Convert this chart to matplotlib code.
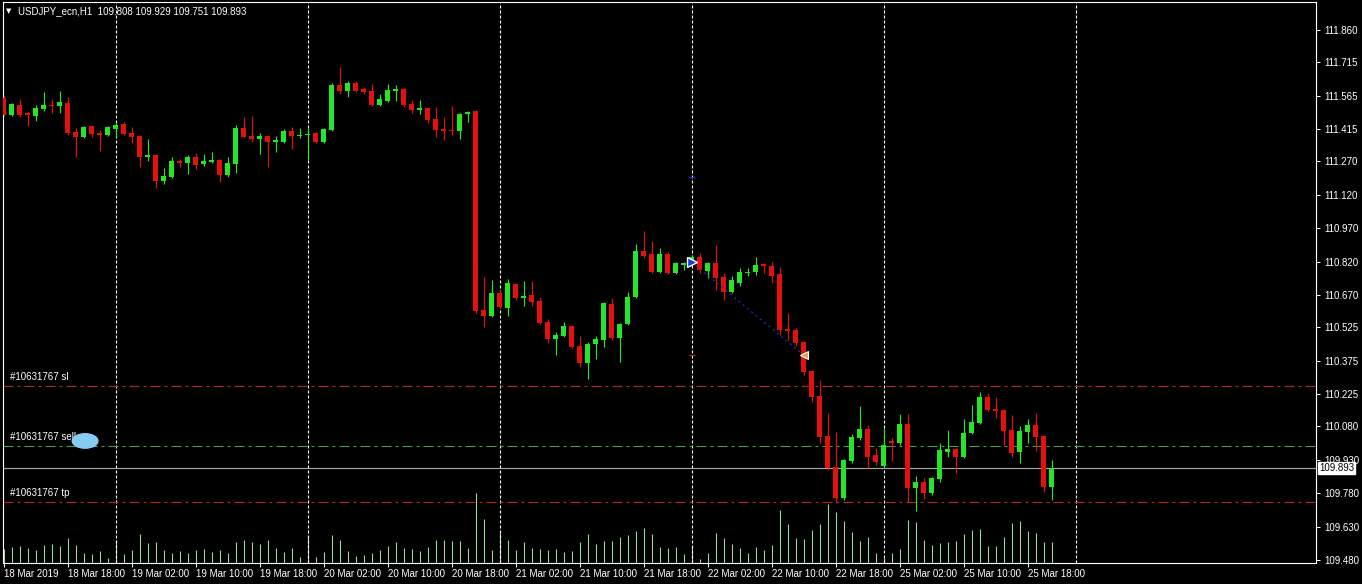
import numpy as np
import matplotlib
matplotlib.use('Agg')
import matplotlib.pyplot as plt
from matplotlib.patches import Ellipse

# USDJPY_ecn H1, bars from 18 Mar 2019 10:00 to 25 Mar 2019 21:00
opens = [111.555, 111.479, 111.524, 111.488, 111.474, 111.506, 111.524, 111.519, 111.533, 111.402,
         111.380, 111.429, 111.398, 111.389, 111.416, 111.438, 111.398, 111.384, 111.290, 111.299,
         111.182, 111.200, 111.272, 111.263, 111.290, 111.259, 111.268, 111.277, 111.209, 111.259,
         111.420, 111.384, 111.371, 111.384, 111.357, 111.357, 111.407, 111.384, 111.389, 111.398,
         111.357, 111.411, 111.613, 111.586, 111.622, 111.595, 111.586, 111.524, 111.542, 111.586,
         111.595, 111.528, 111.501, 111.510, 111.461, 111.416, 111.411, 111.407, 111.483, 111.497,
         110.603, 110.576, 110.679, 110.612, 110.720, 110.657, 110.670, 110.644, 110.549, 110.473,
         110.486, 110.531, 110.442, 110.365, 110.451, 110.469, 110.630, 110.477, 110.540, 110.662,
         110.868, 110.855, 110.774, 110.855, 110.769, 110.805, 110.814, 110.841, 110.778, 110.814,
         110.751, 110.684, 110.724, 110.769, 110.774, 110.810, 110.801, 110.765, 110.518, 110.513,
         110.459, 110.329, 110.217, 110.037, 109.898, 109.759, 109.925, 110.028, 110.069, 109.952,
         109.903, 110.015, 110.006, 110.091, 109.804, 109.831, 109.781, 109.844, 109.966, 109.979,
         109.943, 110.051, 110.096, 110.212, 110.159, 110.154, 110.064, 109.966, 110.055, 110.087,
         110.037, 109.808]
highs = [111.564, 111.533, 111.550, 111.492, 111.524, 111.582, 111.550, 111.586, 111.559, 111.420,
         111.429, 111.434, 111.411, 111.429, 111.443, 111.447, 111.425, 111.389, 111.371, 111.304,
         111.241, 111.290, 111.281, 111.299, 111.308, 111.304, 111.313, 111.281, 111.290, 111.434,
         111.470, 111.474, 111.398, 111.389, 111.384, 111.416, 111.425, 111.420, 111.420, 111.402,
         111.420, 111.622, 111.694, 111.631, 111.631, 111.604, 111.618, 111.573, 111.618, 111.613,
         111.600, 111.546, 111.546, 111.515, 111.515, 111.470, 111.519, 111.488, 111.497, 111.501,
         110.751, 110.738, 110.693, 110.742, 110.724, 110.733, 110.733, 110.662, 110.563, 110.504,
         110.549, 110.536, 110.486, 110.460, 110.486, 110.639, 110.657, 110.545, 110.684, 110.899,
         110.958, 110.913, 110.882, 110.864, 110.819, 110.819, 110.850, 110.859, 110.819, 110.895,
         110.769, 110.756, 110.792, 110.792, 110.841, 110.814, 110.819, 110.796, 110.590, 110.522,
         110.464, 110.334, 110.289, 110.141, 110.055, 109.934, 110.046, 110.172, 110.087, 109.984,
         110.073, 110.028, 110.136, 110.136, 109.858, 109.849, 109.853, 110.006, 110.064, 109.984,
         110.114, 110.177, 110.235, 110.230, 110.212, 110.159, 110.132, 110.082, 110.114, 110.141,
         110.042, 109.929]
lows = [111.474, 111.474, 111.470, 111.429, 111.452, 111.497, 111.488, 111.488, 111.389, 111.290,
        111.375, 111.380, 111.317, 111.384, 111.380, 111.389, 111.353, 111.245, 111.272, 111.151,
        111.169, 111.196, 111.245, 111.214, 111.236, 111.250, 111.263, 111.178, 111.200, 111.218,
        111.380, 111.357, 111.304, 111.245, 111.313, 111.353, 111.326, 111.375, 111.277, 111.353,
        111.353, 111.407, 111.573, 111.559, 111.582, 111.573, 111.519, 111.519, 111.537, 111.542,
        111.515, 111.488, 111.483, 111.443, 111.380, 111.366, 111.389, 111.371, 111.447, 110.590,
        110.527, 110.572, 110.612, 110.576, 110.648, 110.621, 110.621, 110.540, 110.455, 110.401,
        110.482, 110.433, 110.347, 110.293, 110.383, 110.437, 110.469, 110.370, 110.536, 110.657,
        110.837, 110.769, 110.769, 110.765, 110.765, 110.783, 110.805, 110.769, 110.747, 110.693,
        110.648, 110.679, 110.711, 110.756, 110.760, 110.769, 110.724, 110.491, 110.469, 110.442,
        110.311, 110.190, 110.006, 109.885, 109.737, 109.750, 109.916, 110.019, 109.894, 109.907,
        109.894, 109.925, 109.997, 109.741, 109.701, 109.754, 109.772, 109.831, 109.943, 109.871,
        109.939, 110.046, 110.091, 110.150, 110.118, 109.997, 109.943, 109.916, 110.006, 109.970,
        109.786, 109.751]
closes = [111.479, 111.528, 111.479, 111.479, 111.510, 111.524, 111.519, 111.537, 111.398, 111.380,
          111.425, 111.393, 111.389, 111.425, 111.434, 111.393, 111.380, 111.290, 111.299, 111.182,
          111.205, 111.272, 111.263, 111.290, 111.254, 111.272, 111.277, 111.209, 111.263, 111.420,
          111.380, 111.371, 111.384, 111.357, 111.366, 111.407, 111.384, 111.389, 111.393, 111.357,
          111.416, 111.613, 111.586, 111.622, 111.586, 111.582, 111.524, 111.550, 111.591, 111.595,
          111.524, 111.501, 111.510, 111.456, 111.411, 111.407, 111.407, 111.483, 111.492, 110.599,
          110.576, 110.679, 110.617, 110.724, 110.657, 110.666, 110.639, 110.545, 110.473, 110.491,
          110.531, 110.437, 110.365, 110.451, 110.473, 110.635, 110.477, 110.540, 110.662, 110.868,
          110.846, 110.774, 110.855, 110.769, 110.814, 110.814, 110.841, 110.783, 110.814, 110.747,
          110.684, 110.738, 110.774, 110.774, 110.805, 110.801, 110.756, 110.513, 110.509, 110.455,
          110.325, 110.212, 110.033, 109.894, 109.759, 109.930, 110.033, 110.069, 109.943, 109.921,
          109.997, 110.006, 110.091, 109.804, 109.831, 109.781, 109.849, 109.975, 109.979, 109.943,
          110.051, 110.100, 110.212, 110.154, 110.150, 110.060, 109.961, 110.060, 110.087, 110.033,
          109.808, 109.893]
volumes = [570, 650, 690, 610, 530, 730, 770, 690, 1010, 730, 410, 370, 490, 210, 930, 370, 530, 1170,
           810, 850, 530, 410, 490, 410, 530, 570, 450, 530, 410, 850, 930, 850, 770, 930, 610, 450,
           610, 250, 1080, 250, 450, 1130, 930, 490, 290, 330, 410, 530, 690, 850, 610, 570, 490, 650,
           930, 930, 890, 890, 610, 2810, 1770, 530, 1290, 930, 530, 850, 610, 570, 530, 570, 450, 490,
           850, 1170, 770, 890, 890, 1050, 1130, 1290, 1410, 1170, 650, 610, 650, 370, 690, 170, 410,
           1210, 1010, 770, 610, 410, 650, 530, 730, 2130, 1570, 1010, 970, 1330, 1570, 2370, 2050,
           1690, 1250, 890, 1050, 410, 200, 410, 570, 1730, 1650, 930, 730, 810, 850, 890, 1170, 1330,
           1370, 690, 690, 1050, 1610, 1690, 1290, 1210, 850, 850]

# time axis labels, one every 8 bars
label_bars = [0, 8, 16, 24, 32, 40, 48, 56, 64, 72, 80, 88, 96, 104, 112, 120, 128]
label_text = ['18 Mar 2019', '18 Mar 18:00', '19 Mar 02:00', '19 Mar 10:00', '19 Mar 18:00',
              '20 Mar 02:00', '20 Mar 10:00', '20 Mar 18:00', '21 Mar 02:00', '21 Mar 10:00',
              '21 Mar 18:00', '22 Mar 02:00', '22 Mar 10:00', '22 Mar 18:00', '25 Mar 02:00',
              '25 Mar 10:00', '25 Mar 18:00']
day_starts = [14, 38, 62, 86, 110, 134]
price_ticks = [111.860, 111.715, 111.565, 111.415, 111.270, 111.120, 110.970, 110.820, 110.670,
               110.525, 110.375, 110.225, 110.080, 109.930, 109.780, 109.630, 109.480]

order_id = '#10631767'
sl_price = 110.262
sell_price = 109.992
tp_price = 109.741
bid = 109.893
# earlier trade: opened at bar 86, closed at bar 100
trade_open = (86, 110.819)
trade_close = (100, 110.401)
trade_marks = [(86, 111.200, '#2030d0'), (86, 110.401, '#c02020')]

BULL = '#24e624'
BEAR = '#e41010'
FONT = 'Liberation Sans'

W, H, DPI = 1362, 584, 100
fig = plt.figure(figsize=(W / DPI, H / DPI), dpi=DPI, facecolor='black')
ax = fig.add_axes([3 / W, 21 / H, 1313 / W, 561 / H])
ax.set_facecolor('none')
ax.set_zorder(2)

# volume overlay on a twin scale
axv = ax.twinx()
axv.set_zorder(1)
axv.set_ylim(0, 22440)
axv.set_yticks([])
for s in axv.spines.values():
    s.set_visible(False)

n = len(closes)
idx = np.arange(n)
o = np.array(opens)
c = np.array(closes)
colors = [BULL if cc >= oo else BEAR for oo, cc in zip(o, c)]

axv.vlines(idx, 0, volumes, colors='#96dc96', lw=0.8)

ax.vlines(idx, lows, highs, colors=colors, lw=0.85, zorder=3)
body_lo = np.minimum(o, c)
body_h = np.maximum(np.abs(c - o), 0.0035)
ax.bar(idx, body_h, bottom=body_lo - np.where(np.abs(c - o) < 0.0035, 0.0017, 0), width=0.66,
       color=colors, linewidth=0, zorder=4)

ax.set_xlim(-0.0625, 164.06)
ax.set_ylim(109.467, 111.986)

# day separators
for d in day_starts:
    ax.axvline(d, color='white', lw=0.8, dashes=(2.7, 1.8), zorder=2)

# order levels
dashdot = (9, 3.6, 2.7, 3.6)
ax.axhline(sl_price, color='#b8261c', lw=0.8, dashes=dashdot, zorder=2)
ax.axhline(tp_price, color='#b8261c', lw=0.8, dashes=dashdot, zorder=2)
ax.axhline(sell_price, color='#4f9a4f', lw=0.8, dashes=dashdot, zorder=2)
ax.axhline(bid, color='#a8a8b0', lw=0.8, zorder=2)

for lvl, name in [(sl_price, 'sl'), (sell_price, 'sell'), (tp_price, 'tp')]:
    ax.annotate(order_id + ' ' + name, xy=(0, lvl), xycoords=('axes fraction', 'data'),
                xytext=(7, 4), textcoords='offset pixels', color='white', fontsize=7,
                family=FONT, va='bottom', ha='left')
ax.add_patch(Ellipse((10.2, sell_price + 0.023), 3.2, 0.065, color='#86ccf2', zorder=6))

# closed trade
ax.plot([trade_open[0], trade_close[0]], [trade_open[1], trade_close[1]], color='#1c2ab4',
        lw=1, ls=(0, (1.5, 2.5)), zorder=5)
ax.plot(*trade_open, marker='>', ms=7, color='#1a3ae0', mec='white', mew=1, zorder=7)
ax.plot(*trade_close, marker='<', ms=6, color='#f0a040', mec='white', mew=0.8, zorder=7)
for bx, py, col in trade_marks:
    ax.plot(bx, py, marker='_', ms=5, mew=1, color=col, zorder=5)

# axes frame and ticks
for s in ax.spines.values():
    s.set_color('white')
    s.set_linewidth(0.8)
ax.yaxis.tick_right()
ax.set_yticks(price_ticks)
ax.set_yticklabels(['%.3f' % t for t in price_ticks])
ax.tick_params(axis='y', colors='white', direction='out', length=3, width=0.7, pad=3,
               labelsize=7)
ax.set_xticks(label_bars)
ax.set_xticklabels(label_text, ha='left')
ax.tick_params(axis='x', colors='white', direction='out', length=3, width=0.7, pad=1.5,
               labelsize=7)
for lab in ax.get_xticklabels() + ax.get_yticklabels():
    lab.set_family(FONT)

# current bid label
ax.annotate('%.3f' % bid, xy=(1, bid), xycoords=('axes fraction', 'data'), xytext=(3, 0),
            textcoords='offset pixels', va='center', ha='left', fontsize=7, family=FONT,
            color='black', bbox=dict(boxstyle='square,pad=0.12', fc='white', ec='white'),
            zorder=10, annotation_clip=False)

fig.text(6 / W, 1 - 11 / H, '\u25bc', color='white', fontsize=5, va='center', ha='left')
fig.text(18 / W, 1 - 11 / H,
         'USDJPY_ecn,H1  %.3f %.3f %.3f %.3f' % (opens[-1], highs[-1], lows[-1], closes[-1]),
         color='white', fontsize=7, family=FONT, va='center', ha='left')

fig.savefig('out.png', dpi=DPI, facecolor='black')
